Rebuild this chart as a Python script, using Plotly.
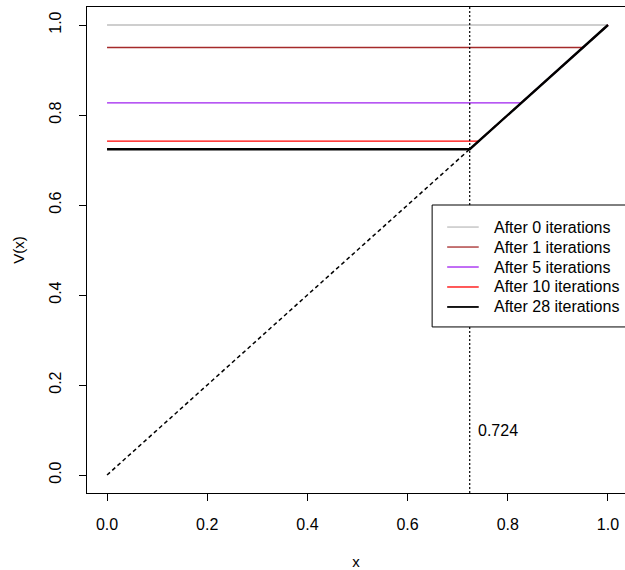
import plotly.graph_objects as go

# Data
iterations = [0, 1, 5, 10, 28]
levels = [1.0, 0.95, 0.827, 0.742, 0.724]
colors = ["#BEBEBE", "#A52A2A", "#A020F0", "#FF0000", "#000000"]
widths = [1.3, 1.3, 1.3, 1.3, 2.4]
threshold = 0.724
label_y = 0.1
x_ticks = [0.0, 0.2, 0.4, 0.6, 0.8, 1.0]
y_ticks = [0.0, 0.2, 0.4, 0.6, 0.8, 1.0]

FONT = "Liberation Sans, Arial, sans-serif"
FS = 16

fig = go.Figure()

# dashed diagonal y = x
fig.add_trace(go.Scatter(
    x=[0, 1], y=[0, 1], mode="lines",
    line=dict(color="black", width=1.5, dash="4px,3px"),
    showlegend=False, hoverinfo="skip"))

for it, v, c, w in zip(iterations, levels, colors, widths):
    fig.add_trace(go.Scatter(
        x=[0, v, 1], y=[v, v, 1], mode="lines",
        line=dict(color=c, width=w),
        name=f"After {it} iterations", showlegend=False))

# threshold line
fig.add_shape(type="line", xref="x", yref="paper",
              x0=threshold, x1=threshold, y0=0, y1=1,
              line=dict(color="black", width=1.2, dash="2px,2px"))

fig.add_annotation(x=threshold, y=label_y, xref="x", yref="y",
                   text=f"{threshold:.3f}", showarrow=False,
                   xanchor="left", yanchor="middle", xshift=6,
                   font=dict(family=FONT, size=FS, color="black"))

# legend box drawn in data coordinates like R's legend(0.65, 0.6, ...)
leg_x, leg_top, leg_bottom = 0.649, 0.6, 0.329
fig.add_shape(type="rect", xref="x", yref="y",
              x0=leg_x, x1=1.05, y0=leg_bottom, y1=leg_top,
              line=dict(color="black", width=1), fillcolor="white",
              layer="above")
step = 0.0444
for k, (it, c, w) in enumerate(zip(iterations, colors, widths)):
    yk = 0.551 - k * step
    fig.add_shape(type="line", xref="x", yref="y",
                  x0=0.679, x1=0.742, y0=yk, y1=yk,
                  line=dict(color=c, width=1.3 if w < 2 else 1.8),
                  layer="above")
    fig.add_annotation(x=0.768, y=yk, xref="x", yref="y",
                       text=f"After {it} iterations", showarrow=False,
                       xanchor="left", yanchor="middle",
                       font=dict(family=FONT, size=FS, color="black"))

fig.update_layout(
    width=625, height=570,
    margin=dict(l=87, r=0, t=7, b=77),
    paper_bgcolor="white", plot_bgcolor="white",
    font=dict(family=FONT, size=FS, color="black"),
    showlegend=False,
    xaxis=dict(range=[-0.04, 1.034], tickvals=x_ticks,
               ticktext=[f"{t:.1f}" for t in x_ticks],
               showgrid=False, zeroline=False, showline=True,
               linecolor="black", linewidth=1, mirror=True,
               ticks="outside", ticklen=7, tickcolor="black",
               ticklabelstandoff=10, automargin=False,
               title=dict(text="x", standoff=24, font=dict(size=15))),
    yaxis=dict(range=[-0.04, 1.04], tickvals=y_ticks,
               ticktext=[f"{t:.1f}" for t in y_ticks],
               showgrid=False, zeroline=False, showline=True,
               linecolor="black", linewidth=1, mirror=False,
               ticks="outside", ticklen=7, tickcolor="black",
               tickangle=-90, ticklabelstandoff=12, automargin=False,
               title=dict(text="V(x)", standoff=18, font=dict(size=15))),
)

# remove the page's default body margin so the figure fills the window
fig.write_html(
    "out.html",
    config={"displayModeBar": False},
    post_script="document.body.style.margin='0';"
                "document.body.style.overflow='hidden';")
